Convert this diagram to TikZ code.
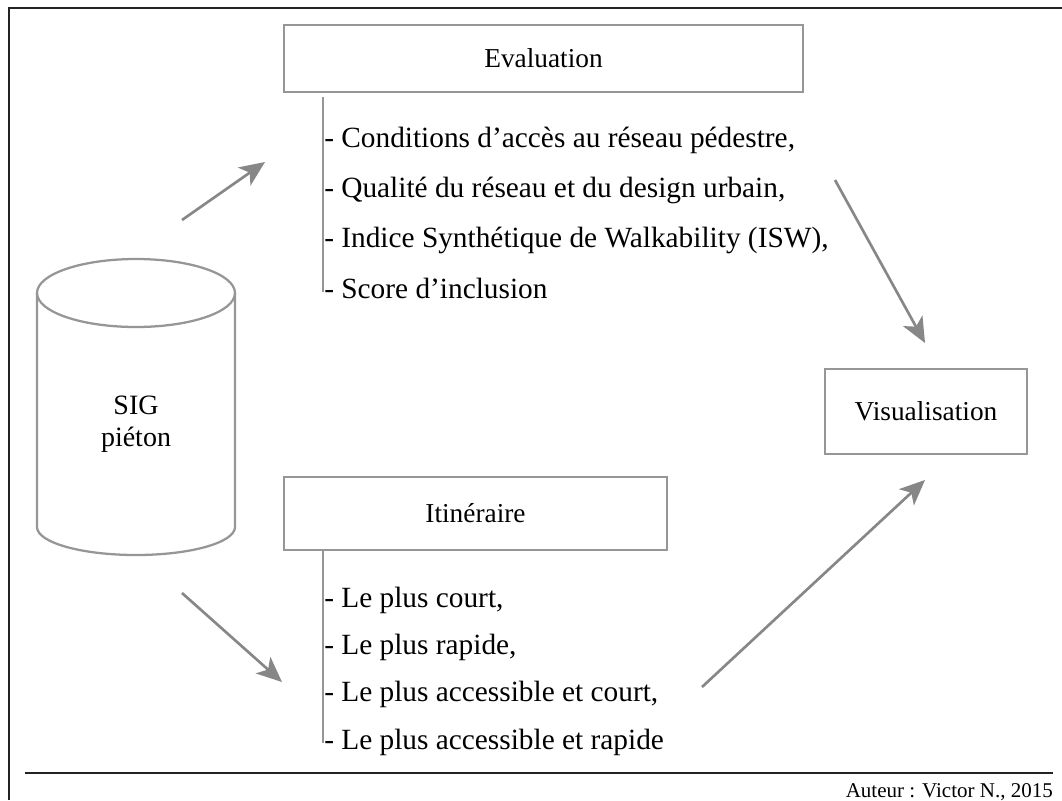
\documentclass[tikz,border=0pt]{standalone}
\usepackage{fontspec}
\setmainfont{Liberation Serif}
\usetikzlibrary{arrows.meta}
\newlength{\px}
\setlength{\px}{0.75pt}
\definecolor{boxgray}{RGB}{150,150,150}
\definecolor{arrowgray}{RGB}{135,135,135}
\definecolor{framedark}{RGB}{35,35,35}

\begin{document}
\begin{tikzpicture}[x=0.75pt,y=-0.75pt,
    box/.style={draw=boxgray,line width=1.9pt,inner sep=0pt,font=\fontsize{20.5}{24}\selectfont},
    item/.style={anchor=base west,inner sep=0pt,font=\fontsize{22}{26}\selectfont},
    flow/.style={draw=arrowgray,line width=2pt,-{Stealth[length=19pt,width=16.5pt,inset=5pt,fill=arrowgray]}},
    branch/.style={draw=boxgray,line width=1.7pt},
    frame/.style={draw=framedark,line width=1.6pt}]
            \useasboundingbox (0,0) rectangle (1062,800);
            % frame
            \draw[frame] (9,800) -- (9,8) -- (1062,8);
            \draw[frame] (25,773) -- (1053,773);
            
            % database
            \draw[branch] (37,293) -- (37,527) arc[start angle=180,end angle=0,x radius=99,y radius=28] -- (235,293);
            \draw[branch] (136,293) ellipse [x radius=99,y radius=34];
            \node (sig) at (136,424) [align=center,font=\fontsize{21}{24}\selectfont] {SIG\\piéton};
            
            % boxes
            \node (eval) at (543.5,58.5) [box,minimum width=519\px,minimum height=67\px] {Evaluation};
            \node (itin) at (475.5,513.5) [box,minimum width=383\px,minimum height=73\px] {Itinéraire};
            \node (visu) at (926,411.5) [box,minimum width=202\px,minimum height=85\px] {Visualisation};
            
            % lists
            \node (ev1) at (324,147) [item] {- Conditions d’accès au réseau pédestre,};
            \node (ev2) at (324,197.3) [item] {- Qualité du réseau et du design urbain,};
            \node (ev3) at (324,247.6) [item] {- Indice Synthétique de Walkability (ISW),};
            \node (ev4) at (324,298) [item] {- Score d’inclusion};
            \node (it1) at (324,607) [item] {- Le plus court,};
            \node (it2) at (324,654.3) [item] {- Le plus rapide,};
            \node (it3) at (324,701.6) [item] {- Le plus accessible et court,};
            \node (it4) at (324,749) [item] {- Le plus accessible et rapide};
            
            \coordinate (evtop) at (323,97);
            \coordinate (evbot) at (323,292);
            \coordinate (ittop) at (323,550);
            \coordinate (itbot) at (323,743);
            \draw[branch] (evtop) -- (evbot);
            \draw[branch] (ittop) -- (itbot);
            
            % arrows
            \coordinate (a1) at (182,220);
            \coordinate (b1) at (265,162);
            \coordinate (a2) at (182,593);
            \coordinate (b2) at (282,682);
            \coordinate (a3) at (835,180);
            \coordinate (b3) at (925,343);
            \coordinate (a4) at (702,687);
            \coordinate (b4) at (925,480);
            \draw[flow] (a1) -- (b1);
            \draw[flow] (a2) -- (b2);
            \draw[flow] (a3) -- (b3);
            \draw[flow] (a4) -- (b4);
            
            \node (auteur) at (1053,797) [anchor=base east,inner sep=0pt,font=\fontsize{15.75}{18}\selectfont] {Auteur : Victor N., 2015};
\end{tikzpicture}
\end{document}
